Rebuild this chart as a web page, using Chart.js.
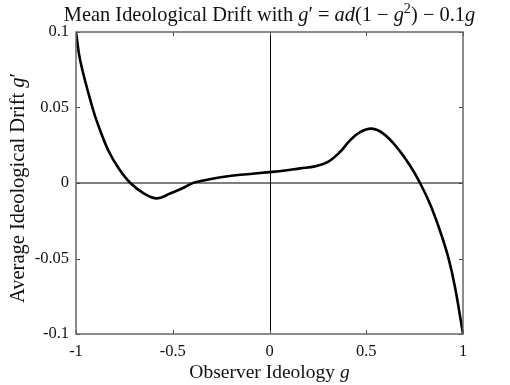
<!DOCTYPE html>
<html>
<head>
<meta charset="utf-8">
<script src="https://cdn.jsdelivr.net/npm/chart.js@4"></script>
<style>
  body { margin: 0; background: #fff; }
  #wrap { width: 510px; height: 385px; }
</style>
</head>
<body>
<div id="wrap"><canvas id="drift"></canvas></div>
<script>
// observer ideology g and average drift g'
const gValues = [-1, -0.978, -0.914, -0.883, -0.831, -0.779, -0.719, -0.65, -0.583, -0.514, -0.45, -0.394, -0.342, -0.26, -0.187, -0.1, 0, 0.08, 0.158, 0.235, 0.3, 0.364, 0.416, 0.468, 0.528, 0.588, 0.657, 0.726, 0.778, 0.829, 0.881, 0.924, 0.959, 1]
const driftValues = [0.1, 0.081, 0.0495, 0.0375, 0.021, 0.0096, 0, -0.0068, -0.0102, -0.007, -0.0035, 0.0001, 0.0016, 0.0037, 0.005, 0.006, 0.0072, 0.0083, 0.0097, 0.011, 0.0138, 0.0205, 0.0282, 0.0337, 0.036, 0.0327, 0.0238, 0.0116, 0, -0.0138, -0.0316, -0.0493, -0.0692, -0.1]
const xTicks = [-1, -0.5, 0, 0.5, 1]
const yTicks = [-0.1, -0.05, 0, 0.05, 0.1]

const serif = '"Liberation Serif", "DejaVu Serif", serif'

let points = []
for (let i = 0; i < gValues.length; i++)
    points.push({x: gValues[i], y: driftValues[i]})

// draw text made of plain / italic / superscript pieces
function richText(ctx, segs, x, y, size, angle) {
    ctx.save()
    ctx.translate(x, y)
    ctx.rotate(angle || 0)
    ctx.fillStyle = '#111'
    ctx.textBaseline = 'alphabetic'
    let total = 0
    for (const s of segs) {
        ctx.font = (s[1] == 'i' ? 'italic ' : '') + (s[1] == 'sup' ? size * 0.7 : size) + 'px ' + serif
        s.w = ctx.measureText(s[0]).width
        total += s.w
    }
    let cx = -total / 2
    for (const s of segs) {
        ctx.font = (s[1] == 'i' ? 'italic ' : '') + (s[1] == 'sup' ? size * 0.7 : size) + 'px ' + serif
        ctx.fillText(s[0], cx, s[1] == 'sup' ? -size * 0.4 : 0)
        cx += s.w
    }
    ctx.restore()
}

const framePlugin = {
    id: 'frame',
    beforeDatasetsDraw(chart) {
        const {ctx, chartArea: a, scales: {x, y}} = chart
        ctx.save()
        // zero lines
        ctx.strokeStyle = '#555'
        ctx.lineWidth = 1.5
        ctx.beginPath()
        ctx.moveTo(a.left, y.getPixelForValue(0))
        ctx.lineTo(a.right, y.getPixelForValue(0))
        ctx.stroke()
        ctx.strokeStyle = '#000'
        ctx.lineWidth = 1
        ctx.beginPath()
        ctx.moveTo(Math.round(x.getPixelForValue(0)) + 0.5, a.top)
        ctx.lineTo(Math.round(x.getPixelForValue(0)) + 0.5, a.bottom)
        ctx.stroke()
        // inward ticks
        ctx.strokeStyle = '#444'
        ctx.beginPath()
        for (const v of xTicks) {
            const px = Math.round(x.getPixelForValue(v)) + 0.5
            ctx.moveTo(px, a.bottom); ctx.lineTo(px, a.bottom - 4)
            ctx.moveTo(px, a.top); ctx.lineTo(px, a.top + 4)
        }
        for (const v of yTicks) {
            const py = Math.round(y.getPixelForValue(v)) + 0.5
            ctx.moveTo(a.left, py); ctx.lineTo(a.left + 4, py)
            ctx.moveTo(a.right, py); ctx.lineTo(a.right - 4, py)
        }
        ctx.stroke()
        ctx.restore()
    },
    afterDraw(chart) {
        const {ctx, chartArea: a} = chart
        ctx.save()
        ctx.strokeStyle = '#666'
        ctx.lineWidth = 1.5
        ctx.strokeRect(a.left, a.top, a.right - a.left, a.bottom - a.top)
        ctx.restore()
        const mid = (a.left + a.right) / 2
        richText(ctx, [['Mean Ideological Drift with ', ''], ['g', 'i'], ['′ = ', ''], ['ad', 'i'], ['(1 − ', ''], ['g', 'i'], ['2', 'sup'], [') − 0.1', ''], ['g', 'i']], mid, 21, 20.4)
        richText(ctx, [['Observer Ideology ', ''], ['g', 'i']], mid, 378, 19.5)
        richText(ctx, [['Average Ideological Drift ', ''], ['g', 'i'], ['′', '']], 24, (a.top + a.bottom) / 2 + 5, 20.5, -Math.PI / 2)
    }
}

const fmt = v => String(Math.round(v * 100) / 100)

new Chart(document.getElementById('drift').getContext('2d'), {
    type: 'scatter',
    data: {
        datasets: [{
            data: points,
            showLine: true,
            borderColor: '#000',
            borderWidth: 2.6,
            pointRadius: 0,
            tension: 0.4
        }]
    },
    options: {
        responsive: true,
        maintainAspectRatio: false,
        animation: false,
        layout: {padding: {top: 32, right: 47, left: 0, bottom: 0}},
        plugins: {legend: {display: false}, tooltip: {enabled: false}},
        scales: {
            x: {
                min: -1, max: 1,
                grid: {display: false, drawTicks: false},
                border: {display: false},
                afterFit: s => { s.height = 51 },
                ticks: {
                    stepSize: 0.5, padding: 8, color: '#111',
                    font: {family: serif, size: 16.5},
                    callback: fmt
                }
            },
            y: {
                min: -0.1, max: 0.1,
                grid: {display: false, drawTicks: false},
                border: {display: false},
                afterFit: s => { s.width = 76 },
                ticks: {
                    stepSize: 0.05, padding: 7, color: '#111',
                    font: {family: serif, size: 16.5},
                    callback: fmt
                }
            }
        }
    },
    plugins: [framePlugin]
})
</script>
</body>
</html>
